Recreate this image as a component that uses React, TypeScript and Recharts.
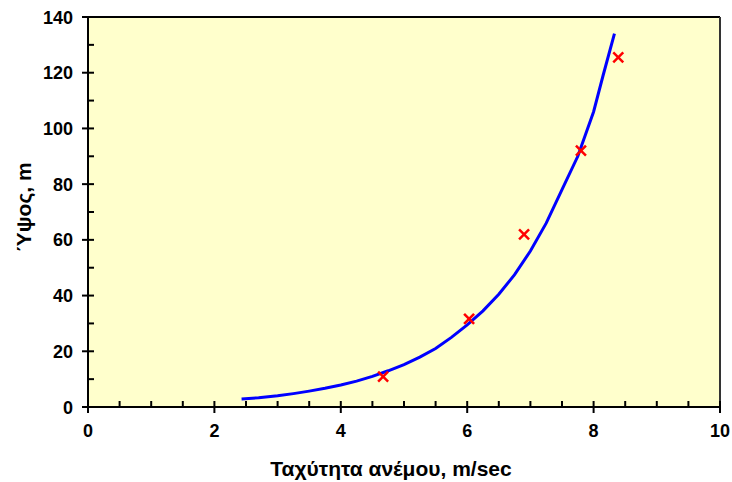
import { ScatterChart, Scatter, XAxis, YAxis, CartesianGrid, ReferenceLine } from "recharts";

// fitted profile (blue line)
const curveSpeed = [
  2.43, 2.7, 3.0, 3.25, 3.5, 3.75, 4.0, 4.25, 4.5, 4.75, 5.0, 5.25, 5.5, 5.75, 6.0, 6.25, 6.5, 6.75, 7.0,
  7.25, 7.5, 7.75, 8.0, 8.15, 8.33,
];
const curveHeight = [
  2.9, 3.3, 4.0, 4.8, 5.7, 6.7, 7.9, 9.3, 11.0, 13.0, 15.2, 17.9, 21.0, 25.0, 29.5, 34.5, 40.5, 47.5, 56,
  66, 78, 90, 106, 119, 134,
];

// measurements (red crosses)
const measSpeed = [4.67, 6.03, 6.9, 7.8, 8.39];
const measHeight = [10.9, 31.6, 62, 92, 125.5];

const xTicks = [0, 0.5, 1, 1.5, 2, 2.5, 3, 3.5, 4, 4.5, 5, 5.5, 6, 6.5, 7, 7.5, 8, 8.5, 9, 9.5, 10];
const yTicks = [0, 10, 20, 30, 40, 50, 60, 70, 80, 90, 100, 110, 120, 130, 140];

const curve = curveSpeed.map((u, i) => ({ u, z: curveHeight[i] }));
const meas = measSpeed.map((u, i) => ({ u, z: measHeight[i] }));

const FONT = "'Liberation Sans', Arial, sans-serif";

function XTick(props: any) {
  const { x, y, payload } = props;
  const major = payload.value % 2 === 0;
  return (
    <g>
      <line x1={x} x2={x} y1={y - 6} y2={major ? y + 6 : y} stroke="#000" strokeWidth={2} />
      {major && (
        <text x={x} y={y + 30} textAnchor="middle" fontFamily={FONT} fontWeight="bold" fontSize={18} fill="#000">
          {payload.value}
        </text>
      )}
    </g>
  );
}

function YTick(props: any) {
  const { x, y, payload } = props;
  const major = payload.value % 20 === 0;
  return (
    <g>
      <line x1={major ? x - 6 : x} x2={x + 6} y1={y} y2={y} stroke="#000" strokeWidth={2} />
      {major && (
        <text x={x - 15} y={y + 6.5} textAnchor="end" fontFamily={FONT} fontWeight="bold" fontSize={18} fill="#000">
          {payload.value}
        </text>
      )}
    </g>
  );
}

function Cross(props: any) {
  const { cx, cy } = props;
  const s = 5;
  return (
    <g stroke="#FF0000" strokeWidth={2.5}>
      <line x1={cx - s} y1={cy - s} x2={cx + s} y2={cy + s} />
      <line x1={cx - s} y1={cy + s} x2={cx + s} y2={cy - s} />
    </g>
  );
}

export default function App() {
  return (
    <div style={{ position: "absolute", left: 0, top: 0, background: "#fff" }}>
      <ScatterChart width={732} height={482} margin={{ top: 17, right: 12, bottom: 0, left: 0 }}>
        <CartesianGrid horizontal={false} vertical={false} fill="#FFFFCC" />
        <XAxis
          type="number"
          dataKey="u"
          domain={[0, 10]}
          ticks={xTicks}
          interval={0}
          height={75}
          tickSize={0}
          tickMargin={0}
          tick={<XTick />}
          axisLine={{ stroke: "#000", strokeWidth: 2 }}
          label={{
            content: () => (
              <text x={391} y={476} textAnchor="middle" fontFamily={FONT} fontWeight="bold" fontSize={21} fill="#000">
                Ταχύτητα ανέμου, m/sec
              </text>
            ),
          }}
        />
        <YAxis
          type="number"
          dataKey="z"
          domain={[0, 140]}
          ticks={yTicks}
          interval={0}
          width={88}
          tickSize={0}
          tickMargin={0}
          tick={<YTick />}
          axisLine={{ stroke: "#000", strokeWidth: 2 }}
          label={{
            content: () => (
              <text
                x={31}
                y={207}
                transform="rotate(-90 31 207)"
                textAnchor="middle"
                fontFamily={FONT}
                fontWeight="bold"
                fontSize={21}
                fill="#000"
              >
                Ύψος, m
              </text>
            ),
          }}
        />
        <ReferenceLine y={140} stroke="#000" strokeWidth={2} />
        <ReferenceLine x={10} stroke="#333" strokeWidth={2} />
        <Scatter
          data={curve}
          line={{ stroke: "#0000FF", strokeWidth: 3 }}
          shape={() => <g />}
          isAnimationActive={false}
        />
        <Scatter data={meas} shape={<Cross />} isAnimationActive={false} />
      </ScatterChart>
    </div>
  );
}
